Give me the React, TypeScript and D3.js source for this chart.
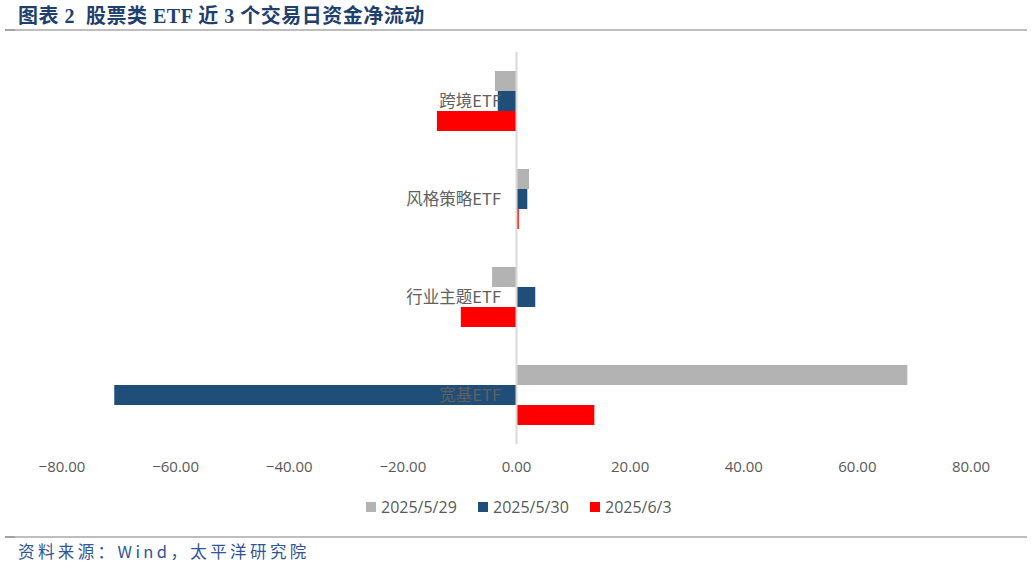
import React from "react";
import * as d3 from "d3";

const categories = ["跨境ETF", "风格策略ETF", "行业主题ETF", "宽基ETF"];
const seriesNames = ["2025/5/29", "2025/5/30", "2025/6/3"];
const values529 = [-3.8, 2.2, -4.3, 68.8];
const values530 = [-3.3, 1.9, 3.3, -70.8];
const values603 = [-14.0, 0.4, -9.8, 13.7];
const xTicks = [-80, -60, -40, -20, 0, 20, 40, 60, 80];
const colors = ["#b3b3b3", "#1f4e79", "#ff0000"];

export default function App() {
  const W = 1032, H = 568;
  const x = d3.scaleLinear().domain([-80, 80]).range([62, 971]);
  const y = d3.scaleBand().domain(categories).range([52, 444]).paddingInner(0.388).paddingOuter(0.194);
  const inner = d3.scaleBand().domain(seriesNames).range([0, y.bandwidth()]);
  const series = [values529, values530, values603];
  const x0 = x(0);
  const labelFont = "'Noto Sans CJK SC', 'Open Sans', sans-serif";
  return (
    <svg width={W} height={H} style={{ position: "absolute", left: 0, top: 0, background: "#fff" }}>
      <text x={18} y={23} fontFamily="'Liberation Serif', 'Noto Sans CJK SC', serif" fontWeight="bold" fontSize={20} letterSpacing={0.5} fill="#1f3f6e" xmlSpace="preserve">
        图表 2  股票类 ETF 近 3 个交易日资金净流动
      </text>
      <rect x={5} y={29} width={10} height={2} fill="#c8c8c8" />
      <line x1={5} x2={1027} y1={30} y2={30} stroke="#7f7f7f" strokeWidth={1.2} />
      {series.map((vals, si) =>
        vals.map((v, ci) => {
          const yy = (y(categories[ci]) as number) + (inner(seriesNames[si]) as number);
          return (
            <rect key={si + "-" + ci} x={Math.min(x(v), x0)} y={yy} width={Math.abs(x(v) - x0)} height={inner.bandwidth()} fill={colors[si]} />
          );
        })
      )}
      <line x1={x0} x2={x0} y1={52} y2={444} stroke="#d9d9d9" strokeWidth={2} />
      {categories.map((c) => (
        <text key={c} x={501} y={(y(c) as number) + y.bandwidth() / 2} dy="0.35em" textAnchor="end" fontFamily={labelFont} fontSize={16.5} fill="#606060">
          {c}
        </text>
      ))}
      {xTicks.map((t) => (
        <text key={t} x={x(t)} y={467} dy="0.35em" textAnchor="middle" fontFamily="'Open Sans', sans-serif" fontSize={15} fill="#595959">
          {d3.format(".2f")(t)}
        </text>
      ))}
      {seriesNames.map((s, i) => {
        const lx = [366, 478, 590][i];
        return (
          <g key={s}>
            <rect x={lx} y={502} width={10} height={10} fill={colors[i]} />
            <text x={lx + 15} y={507} dy="0.35em" fontFamily="'Open Sans', sans-serif" fontSize={16} fill="#595959">{s}</text>
          </g>
        );
      })}
      <rect x={5} y={536} width={10} height={2} fill="#c8c8c8" />
      <line x1={5} x2={1027} y1={537} y2={537} stroke="#7f7f7f" strokeWidth={1.2} />
      <text x={18} y={558} fontFamily="'Noto Sans CJK SC', monospace" fontSize={16.5} letterSpacing={3.4} fill="#2f5597">
        资料来源：Wind，太平洋研究院
      </text>
    </svg>
  );
}
